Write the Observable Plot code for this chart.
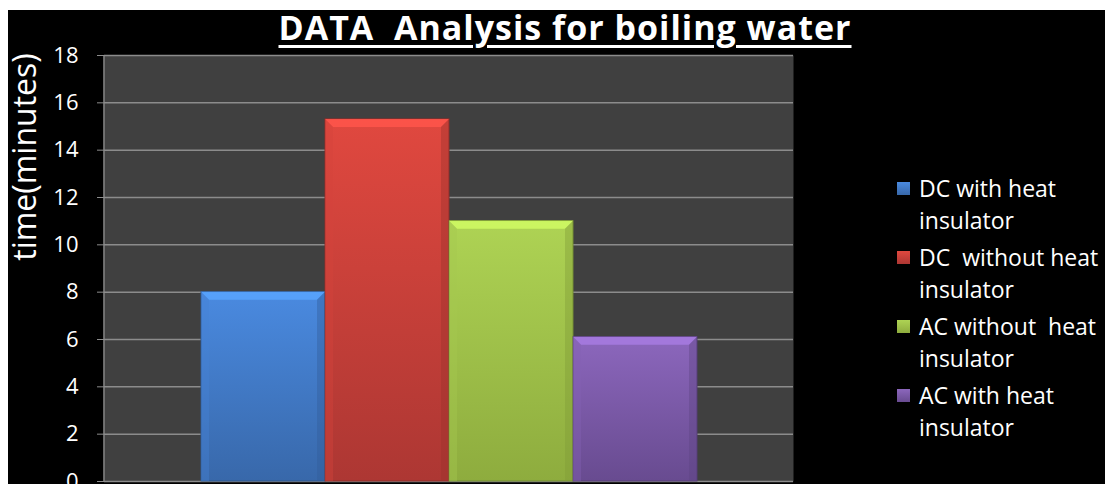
<!DOCTYPE html>
<html><head><meta charset="utf-8">
<script src="https://cdn.jsdelivr.net/npm/d3@7"></script>
<script src="https://cdn.jsdelivr.net/npm/@observablehq/plot@0.6"></script>
<style>
html,body{margin:0;padding:0;background:#fff;overflow:hidden;width:1105px;height:484px;}
#wrap{position:absolute;left:8px;top:10px;width:1097px;height:474px;background:#000;font-family:"Open Sans",Lato,sans-serif;color:#fff;}
#chart{position:absolute;left:0;top:0;}
#title{position:absolute;left:157px;width:800px;top:0px;text-align:center;font-size:34px;line-height:34px;font-weight:bold;letter-spacing:1px;white-space:pre;}
#title span{text-decoration:underline;text-decoration-thickness:3px;text-underline-offset:5px;}
#ylabel{position:absolute;left:15.5px;top:147px;transform:translate(-50%,-50%) rotate(-90deg);font-size:32px;line-height:30px;white-space:pre;}
#legend{position:absolute;left:889px;top:162px;font-size:23px;line-height:32px;}
.item{position:relative;padding-left:22px;margin-bottom:5px;white-space:pre;}
.sw{position:absolute;left:0;top:10px;width:13px;height:13px;}
</style>
</head><body>
<div id="wrap">
  <div id="chart"></div>
  <div id="title"><span></span></div>
  <div id="ylabel"></div>
  <div id="legend"></div>
</div>
<script>
const titleText = "DATA  Analysis for boiling water";
const yLabel = "time(minutes)";
const categories = ["DC with heat insulator", "DC  without heat insulator", "AC without  heat insulator", "AC with heat insulator"];
const times = [8, 15.3, 11, 6.1];
const colorsTop = ["#4a8ae0", "#e0483f", "#aed354", "#8c67bd"];
const colorsBottom = ["#3868aa", "#ad3733", "#8eac3e", "#684b90"];
const yTicks = [0, 2, 4, 6, 8, 10, 12, 14, 16, 18];

const data = categories.map((c, i) => ({cat: c, time: times[i]}));

const plot = Plot.plot({
  width: 1097,
  height: 500,
  marginLeft: 96,
  marginRight: 312,
  marginTop: 45,
  marginBottom: 29,
  style: {background: "transparent", color: "white", fontFamily: "'Open Sans', Lato, sans-serif"},
  x: {type: "band", domain: categories, paddingInner: 0, paddingOuter: 0.756, axis: null},
  y: {domain: [0, 18]},
  color: {domain: categories, range: colorsTop},
  marks: [
    Plot.frame({fill: "#404040", stroke: "none"}),
    Plot.gridY(yTicks, {stroke: "#8c8c8c", strokeOpacity: 1, strokeWidth: 1.5}),
    Plot.axisY(yTicks, {tickSize: 7, tickPadding: 19, fontSize: 22, color: "white", stroke: "#8c8c8c", label: null}),
    Plot.barY(data, {x: "cat", y: "time", fill: "cat"})
  ]
});
document.getElementById("chart").appendChild(plot);

// gradients and bevels for bars
const svg = d3.select(plot);
const defs = svg.insert("defs", ":first-child");
categories.forEach((c, i) => {
  const g = defs.append("linearGradient").attr("id", "g" + i).attr("x1", 0).attr("y1", 0).attr("x2", 0).attr("y2", 1);
  g.append("stop").attr("offset", "0%").attr("stop-color", colorsTop[i]);
  g.append("stop").attr("offset", "100%").attr("stop-color", colorsBottom[i]);
});
const bars = svg.selectAll("g[aria-label='bar'] rect");
bars.each(function(d, k) {
  const r = d3.select(this);
  r.attr("fill", `url(#g${k})`).attr("stroke", d3.color(colorsBottom[k]).darker(0.6)).attr("stroke-width", 1);
  const x = +r.attr("x"), y = +r.attr("y"), w = +r.attr("width"), h = +r.attr("height");
  const b = 8;
  const parent = d3.select(this.parentNode);
  parent.append("polygon")
    .attr("points", `${x},${y} ${x + w},${y} ${x + w - b},${y + b} ${x + b},${y + b}`)
    .attr("fill", d3.color(colorsTop[k]).brighter(0.5)).attr("opacity", 0.85);
  parent.append("polygon")
    .attr("points", `${x},${y} ${x + b},${y + b} ${x + b},${y + h} ${x},${y + h}`)
    .attr("fill", d3.color(colorsTop[k]).darker(0.15)).attr("opacity", 0.4);
  parent.append("polygon")
    .attr("points", `${x + w},${y} ${x + w - b},${y + b} ${x + w - b},${y + h} ${x + w},${y + h}`)
    .attr("fill", d3.color(colorsBottom[k]).darker(0.3)).attr("opacity", 0.4);
});
// axis line on the left
const ys = plot.scale("y");
svg.append("line").attr("x1", 96).attr("x2", 96)
  .attr("y1", ys.range[0]).attr("y2", ys.range[1])
  .attr("stroke", "#8c8c8c").attr("stroke-width", 1.5);

document.querySelector("#title span").textContent = titleText;
document.getElementById("ylabel").textContent = yLabel;
const legend = document.getElementById("legend");
categories.forEach((c, i) => {
  const idx = c.lastIndexOf(" ");
  const div = document.createElement("div");
  div.className = "item";
  const sw = document.createElement("span");
  sw.className = "sw";
  sw.style.background = `linear-gradient(${colorsTop[i]}, ${colorsBottom[i]})`;
  div.appendChild(sw);
  div.appendChild(document.createTextNode(c.slice(0, idx) + "\n" + c.slice(idx + 1)));
  legend.appendChild(div);
});
</script>
</body></html>
